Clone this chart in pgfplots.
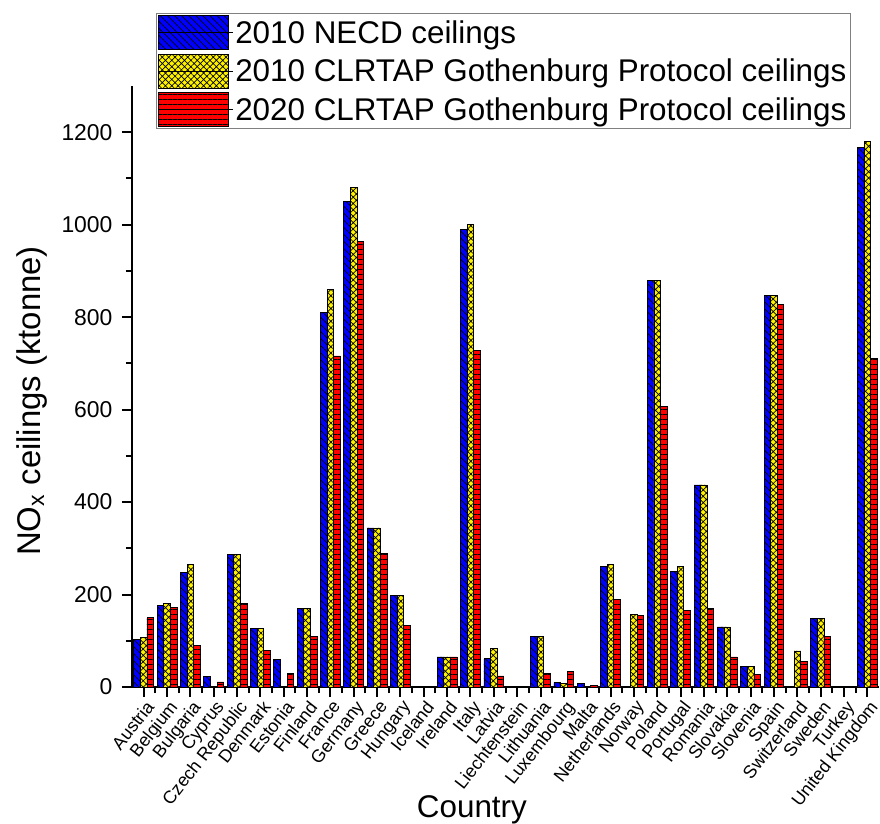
\documentclass[border=0pt]{standalone}
\usepackage{fontspec}
\setmainfont{Liberation Sans}
\usepackage{pgfplots}
\pgfplotsset{compat=1.18}
\usetikzlibrary{patterns.meta}
\tikzset{
 bluepat/.style={fill=blue, draw=black, line width=0.8bp, postaction={pattern={Lines[angle=-45,distance=5bp,line width=0.7bp]}, pattern color=black}},
 yelpat/.style={fill=yellow, draw=black, line width=0.8bp, postaction={pattern={Hatch[angle=45,distance=4.5bp,line width=0.7bp]}, pattern color=black}},
 redpat/.style={fill=red, draw=black, line width=0.8bp, postaction={pattern={Lines[angle=0,distance=5bp,line width=0.7bp]}, pattern color=black}},
}
\begin{document}
\begin{tikzpicture}
\begin{axis}[
 width=747bp, height=601bp, scale only axis,
 at={(0,0)}, anchor=south west,
 xmin=-0.5, xmax=31.5, ymin=0, ymax=1300,
 ybar=0pt, bar width=6.6bp,
 axis lines*=left,
 axis line style={line width=2bp},
 xtick={0,...,31},
 xticklabels={Austria,Belgium,Bulgaria,Cyprus,Czech Republic,Denmark,Estonia,Finland,France,Germany,Greece,Hungary,Iceland,Ireland,Italy,Latvia,Liechtenstein,Lithuania,Luxembourg,Malta,Netherlands,Norway,Poland,Portugal,Romania,Slovakia,Slovenia,Spain,Switzerland,Sweden,Turkey,United Kingdom},
 minor x tick num=1,
 ytick={0,200,...,1200}, minor y tick num=1,
 tick align=outside, major tick length=10bp, minor tick length=6bp,
 every tick/.style={line width=2bp, black},
 every minor tick/.style={line width=2bp, black},
 /pgf/number format/assume math mode=true,
 /pgf/number format/1000 sep={},
 yticklabel style={font=\fontsize{23}{27}\selectfont, xshift=-6bp},
 xticklabel style={font=\fontsize{18}{21}\selectfont, rotate=52, anchor=north east, inner sep=1bp, xshift=0bp, yshift=-1bp},
 xlabel={Country},
 xlabel style={font=\fontsize{31.5}{36}\selectfont, at={(axis description cs:0.455,0)}, anchor=base, yshift=-130bp},
 ylabel={NO\textsubscript{x} ceilings (ktonne)},
 ylabel style={font=\fontsize{33}{38}\selectfont, at={(axis description cs:0,0.476)}, anchor=center, yshift=100bp},
 legend style={at={(0.0321,1.1215)}, anchor=north west, draw=gray, line width=1bp, font=\fontsize{31.5}{36}\selectfont, inner sep=2bp, row sep=3.5bp},
 legend cell align=left,
 legend image code/.code={\draw[#1] (0bp,-17bp) rectangle (70bp,17bp); \path (0bp,0bp) -- (74bp,0bp);},
]
\addplot[bluepat] coordinates {(0,103) (1,176) (2,247) (3,23) (4,286) (5,127) (6,60) (7,170) (8,810) (9,1051) (10,344) (11,198) (13,65) (14,990) (15,61) (17,110) (18,10) (19,8) (20,260) (22,879) (23,250) (24,437) (25,130) (26,45) (27,847) (29,148) (31,1167)};
\addlegendentry{2010 NECD ceilings}
\addplot[yelpat] coordinates {(0,107) (1,181) (2,266) (4,286) (5,127) (7,170) (8,860) (9,1081) (10,344) (11,198) (13,65) (14,1000) (15,83) (17,110) (18,8) (20,266) (21,156) (22,879) (23,260) (24,437) (25,130) (26,45) (27,847) (28,78) (29,148) (31,1181)};
\addlegendentry{2010 CLRTAP Gothenburg Protocol ceilings}
\addplot[redpat] coordinates {(0,150) (1,172) (2,90) (3,11) (4,181) (5,80) (6,30) (7,110) (8,716) (9,963) (10,288) (11,133) (13,65) (14,728) (15,24) (17,29) (18,34) (19,4) (20,190) (21,155) (22,606) (23,166) (24,169) (25,65) (26,28) (27,827) (28,55) (29,110) (31,711)};
\addlegendentry{2020 CLRTAP Gothenburg Protocol ceilings}
\end{axis}
\pgfresetboundingbox
\path[use as bounding box] (-132bp,-137bp) rectangle (748bp,687bp);
\end{tikzpicture}
\end{document}
